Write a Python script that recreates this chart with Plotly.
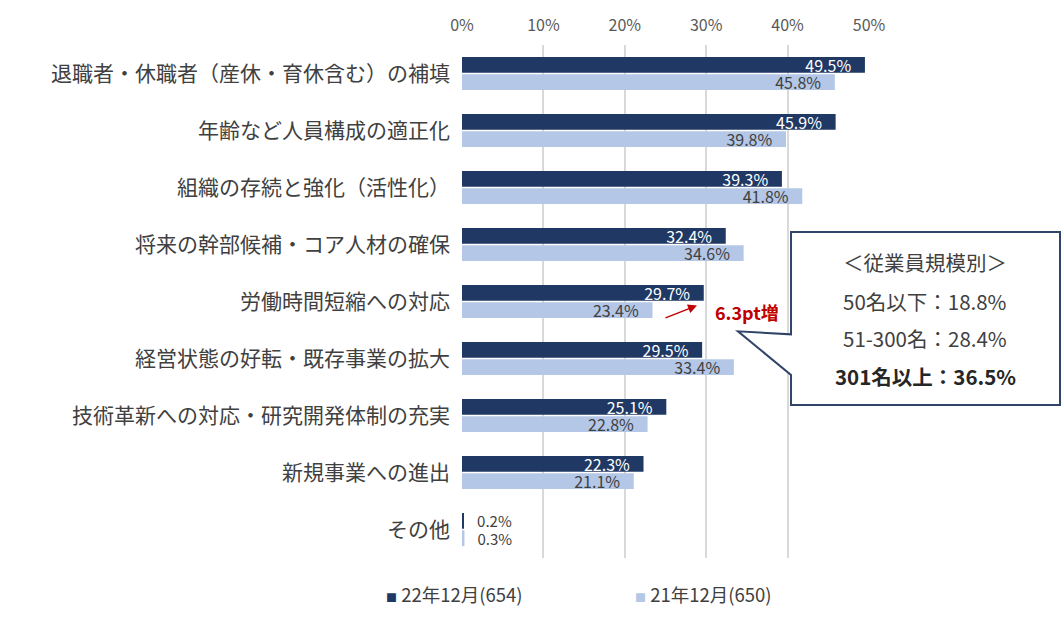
import plotly.graph_objects as go

# 項目（上から順）
categories = [
    "退職者・休職者（産休・育休含む）の補填",
    "年齢など人員構成の適正化",
    "組織の存続と強化（活性化）",
    "将来の幹部候補・コア人材の確保",
    "労働時間短縮への対応",
    "経営状態の好転・既存事業の拡大",
    "技術革新への対応・研究開発体制の充実",
    "新規事業への進出",
    "その他",
]
dec22 = [49.5, 45.9, 39.3, 32.4, 29.7, 29.5, 25.1, 22.3, 0.2]
dec21 = [45.8, 39.8, 41.8, 34.6, 23.4, 33.4, 22.8, 21.1, 0.3]
series_names = ["22年12月(654)", "21年12月(650)"]

callout_lines = ["＜従業員規模別＞", "50名以下：18.8%", "51-300名：28.4%", "301名以上：36.5%"]
increase_note = "6.3pt増"

DARK = "#203864"
LIGHT = "#B4C7E7"
TXT = "#404040"
FONT = "Noto Sans CJK JP"

# 図の画素配置（1062x618）
L, R, T, B = 462, 869, 42, 558


def px(x):
    return (x - L) / (R - L)


def py(y):
    return (B - y) / (B - T)


def labels(vals):
    # 小さい値は棒の外、それ以外は棒の内側右端
    text, pos = [], []
    for v in vals:
        if v < 3:
            text.append("\u00a0\u00a0\u00a0" + f"{v:.1f}%")
            pos.append("outside")
        else:
            text.append(f"{v:.1f}%" + "\u00a0\u00a0\u00a0")
            pos.append("inside")
    return text, pos


fig = go.Figure()

for name, vals, color, tcolor in [
    (series_names[0], dec22, DARK, "white"),
    (series_names[1], dec21, LIGHT, TXT),
]:
    text, pos = labels(vals)
    fig.add_trace(
        go.Bar(
            y=categories,
            x=vals,
            name=name,
            orientation="h",
            marker=dict(color=color, line=dict(width=0)),
            text=text,
            textposition=pos,
            insidetextanchor="end",
            insidetextfont=dict(color=tcolor, size=16, family=FONT),
            outsidetextfont=dict(color=TXT, size=15, family=FONT),
            constraintext="none",
            cliponaxis=False,
            showlegend=False,
            hoverinfo="x+y+name",
        )
    )

fig.update_layout(
    width=1062,
    height=618,
    margin=dict(l=L, r=1062 - R, t=T, b=618 - B),
    paper_bgcolor="white",
    plot_bgcolor="white",
    barmode="group",
    bargap=0.39,
    bargroupgap=0.09,
    font=dict(family=FONT, color=TXT),
    xaxis=dict(
        side="top",
        range=[0, 50],
        dtick=10,
        ticksuffix="%",
        showgrid=True,
        gridcolor="#D9D9D9",
        gridwidth=1.5,
        zeroline=False,
        showline=False,
        ticks="",
        tickfont=dict(size=16, color="#595959", family=FONT),
        ticklabelstandoff=10,
        fixedrange=True,
    ),
    yaxis=dict(
        autorange="reversed",
        showgrid=False,
        showline=False,
        ticks="",
        tickfont=dict(size=21, color=TXT, family=FONT),
        ticklabelstandoff=11,
        automargin=False,
        fixedrange=True,
    ),
)

# 吹き出し
box = [(791, 230), (1060, 230), (1060, 404), (791, 404), (791, 374), (738, 330), (791, 333)]
path = "M " + " L ".join(f"{px(x):.4f},{py(y):.4f}" for x, y in box) + " Z"
fig.add_shape(
    type="path",
    path=path,
    xref="paper",
    yref="paper",
    fillcolor="white",
    line=dict(color="#2F4468", width=2),
    layer="above",
)

for i, (line, yy) in enumerate(zip(callout_lines, [260, 299, 337, 375])):
    bold = i == 3
    fig.add_annotation(
        x=px(925),
        y=py(yy),
        xref="paper",
        yref="paper",
        text=f"<b>{line}</b>" if bold else line,
        showarrow=False,
        xanchor="center",
        yanchor="middle",
        font=dict(size=20.5, color="#262626" if bold else TXT, family=FONT),
    )

# 増加の注記と矢印
fig.add_annotation(
    x=px(697),
    y=py(304),
    xref="paper",
    yref="paper",
    ax=-33,
    ay=13,
    text="",
    showarrow=True,
    arrowhead=2,
    arrowsize=1.2,
    arrowwidth=1.5,
    arrowcolor="#C00000",
)
fig.add_annotation(
    x=px(713),
    y=py(311),
    xref="paper",
    yref="paper",
    text=f"<b>{increase_note}</b>",
    showarrow=False,
    xanchor="left",
    yanchor="middle",
    font=dict(size=18, color="#C00000", family=FONT),
)

# 凡例
for name, color, xx in [(series_names[0], DARK, 384), (series_names[1], LIGHT, 633)]:
    fig.add_annotation(
        x=px(xx),
        y=py(594),
        xref="paper",
        yref="paper",
        text=f'<span style="color:{color};font-size:11px">■</span> {name}',
        showarrow=False,
        xanchor="left",
        yanchor="middle",
        font=dict(size=18.5, color=TXT, family=FONT),
    )

fig.write_html(
    "out.html",
    config={"displayModeBar": False},
    post_script="document.body.style.margin='0';",
)
